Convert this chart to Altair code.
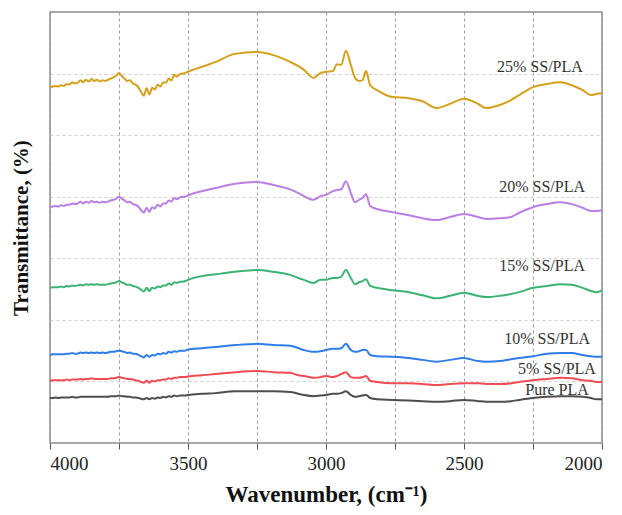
import altair as alt
import pandas as pd

wavenumber = [4000, 3990, 3980, 3970, 3960, 3950, 3940, 3930, 3920, 3910,
              3900, 3890, 3880, 3870, 3860, 3850, 3840, 3830, 3820, 3810,
              3800, 3790, 3780, 3770, 3760, 3750, 3740, 3730, 3720, 3710,
              3700, 3690, 3680, 3670, 3660, 3650, 3640, 3630, 3620, 3610,
              3600, 3590, 3580, 3570, 3560, 3550, 3540, 3530, 3520, 3510,
              3500, 3450, 3400, 3330, 3250, 3190, 3130, 3100, 3080, 3045,
              3020, 3000, 2975, 2960, 2945, 2928, 2910, 2895, 2880, 2868,
              2855, 2840, 2815, 2760, 2700, 2650, 2600, 2550, 2500, 2450,
              2420, 2370, 2330, 2300, 2250, 2200, 2150, 2110, 2070, 2040,
              2020, 2000]

ss25 = [57.7, 57.9, 58.0, 57.9, 58.1, 58.0, 58.3, 58.2, 58.6, 58.4,
        58.5, 58.9, 58.6, 59.0, 58.7, 59.1, 58.8, 59.0, 58.7, 58.9,
        58.8, 59.0, 59.2, 59.4, 59.7, 60.1, 59.6, 59.2, 58.8, 58.9,
        58.4, 58.2, 57.8, 57.0, 56.4, 57.6, 56.6, 57.7, 57.4, 58.2,
        57.9, 58.6, 58.5, 59.2, 58.9, 59.8, 59.5, 59.9, 60.0, 60.1,
        60.3, 61.1, 61.9, 63.2, 63.5, 63.0, 61.9, 61.2, 60.6, 59.3,
        60.1, 60.3, 60.4, 61.5, 61.4, 63.7, 61.4, 59.3, 58.8, 58.9,
        60.4, 58.1, 57.3, 56.2, 56.0, 55.5, 54.4, 55.1, 55.9, 55.1,
        54.4, 54.9, 55.7, 56.5, 57.8, 58.3, 58.6, 58.1, 57.3, 56.5,
        56.7, 56.8]

ss20 = [38.3, 38.4, 38.5, 38.4, 38.6, 38.5, 38.7, 38.7, 38.9, 38.8,
        38.9, 39.2, 38.9, 39.2, 39.0, 39.3, 39.1, 39.2, 39.0, 39.2,
        39.1, 39.2, 39.4, 39.5, 39.7, 40.0, 39.7, 39.4, 39.1, 39.2,
        38.8, 38.7, 38.4, 37.8, 37.4, 38.2, 37.5, 38.3, 38.1, 38.7,
        38.4, 38.9, 38.9, 39.4, 39.2, 39.8, 39.6, 39.9, 40.0, 40.0,
        40.2, 40.9, 41.4, 42.1, 42.4, 41.9, 41.2, 40.6, 40.1, 39.5,
        40.1, 40.3, 40.9, 41.1, 41.2, 42.5, 40.6, 39.1, 39.5, 39.8,
        40.4, 38.5, 38.0, 37.5, 37.0, 36.5, 36.2, 36.7, 37.2, 36.7,
        36.4, 36.5, 36.7, 37.4, 38.3, 38.8, 39.1, 38.8, 38.2, 37.7,
        37.7, 37.8]

ss15 = [25.2, 25.3, 25.3, 25.3, 25.4, 25.3, 25.5, 25.4, 25.6, 25.5,
        25.6, 25.7, 25.6, 25.8, 25.7, 25.8, 25.7, 25.8, 25.7, 25.7,
        25.7, 25.8, 25.9, 26.0, 26.1, 26.3, 26.1, 25.9, 25.7, 25.7,
        25.5, 25.4, 25.2, 24.9, 24.6, 25.2, 24.7, 25.2, 25.1, 25.4,
        25.3, 25.6, 25.6, 25.9, 25.7, 26.1, 26.0, 26.2, 26.2, 26.3,
        26.5, 27.1, 27.4, 27.8, 28.1, 27.8, 27.3, 26.8, 26.5, 26.0,
        26.5, 26.5, 26.8, 26.8, 27.0, 28.1, 26.8, 25.8, 26.1, 26.3,
        26.6, 25.5, 25.2, 24.8, 24.5, 24.0, 23.5, 23.9, 24.4, 23.9,
        23.7, 23.9, 24.2, 24.5, 25.2, 25.5, 25.8, 25.7, 25.2, 24.7,
        24.5, 24.8]

ss10 = [14.3, 14.4, 14.4, 14.4, 14.4, 14.4, 14.5, 14.5, 14.6, 14.5,
        14.5, 14.7, 14.6, 14.7, 14.6, 14.7, 14.6, 14.7, 14.6, 14.7,
        14.6, 14.7, 14.8, 14.8, 14.9, 15.0, 14.9, 14.8, 14.6, 14.7,
        14.5, 14.5, 14.3, 14.1, 13.9, 14.3, 14.0, 14.3, 14.2, 14.5,
        14.4, 14.6, 14.5, 14.8, 14.7, 14.9, 14.8, 15.0, 15.0, 15.0,
        15.2, 15.4, 15.6, 15.9, 16.1, 15.9, 15.8, 15.4, 15.1, 14.8,
        14.9, 15.1, 15.3, 15.3, 15.4, 16.1, 15.1, 14.8, 14.9, 15.1,
        15.1, 14.3, 14.1, 14.0, 13.8, 13.5, 13.2, 13.5, 13.8, 13.3,
        13.2, 13.3, 13.6, 13.8, 14.1, 14.5, 14.6, 14.6, 14.3, 14.1,
        14.0, 14.0]

ss5 = [10.1, 10.2, 10.2, 10.2, 10.2, 10.2, 10.3, 10.2, 10.3, 10.3,
       10.3, 10.4, 10.3, 10.4, 10.4, 10.5, 10.4, 10.4, 10.4, 10.4,
       10.4, 10.4, 10.5, 10.5, 10.6, 10.7, 10.6, 10.5, 10.4, 10.4,
       10.3, 10.2, 10.1, 9.9, 9.8, 10.1, 9.8, 10.1, 10.0, 10.2,
       10.2, 10.3, 10.3, 10.5, 10.4, 10.6, 10.6, 10.7, 10.7, 10.7,
       10.8, 11.0, 11.2, 11.5, 11.7, 11.5, 11.4, 11.0, 10.9, 10.6,
       10.7, 10.9, 10.7, 10.9, 11.2, 11.5, 10.7, 10.6, 10.6, 10.7,
       10.9, 10.1, 9.9, 9.7, 9.7, 9.6, 9.4, 9.6, 9.7, 9.7,
       9.6, 9.6, 9.7, 9.9, 10.2, 10.4, 10.6, 10.5, 10.2, 10.1,
       9.9, 9.9]

pure = [7.3, 7.3, 7.4, 7.3, 7.4, 7.4, 7.4, 7.4, 7.5, 7.4,
        7.4, 7.5, 7.5, 7.5, 7.5, 7.5, 7.5, 7.5, 7.5, 7.5,
        7.5, 7.5, 7.6, 7.6, 7.6, 7.7, 7.6, 7.6, 7.5, 7.5,
        7.4, 7.4, 7.3, 7.2, 7.1, 7.3, 7.1, 7.3, 7.2, 7.4,
        7.3, 7.5, 7.4, 7.6, 7.5, 7.7, 7.6, 7.7, 7.7, 7.7,
        7.8, 8.0, 8.1, 8.4, 8.4, 8.4, 8.3, 8.0, 7.8, 7.6,
        7.7, 7.8, 8.0, 8.0, 8.1, 8.4, 7.8, 7.5, 7.6, 7.7,
        7.8, 7.3, 7.1, 7.0, 6.9, 6.8, 6.7, 6.8, 7.0, 6.8,
        6.7, 6.7, 6.8, 7.0, 7.3, 7.5, 7.6, 7.6, 7.5, 7.3,
        7.1, 7.1]

series_names = ["Pure PLA", "5% SS/PLA", "10% SS/PLA", "15% SS/PLA", "20% SS/PLA", "25% SS/PLA"]
series_values = [pure, ss5, ss10, ss15, ss20, ss25]
series_colors = ["#4d4d4d", "#ef4b52", "#2f7de6", "#3cb371", "#b97fe3", "#d4a11c"]

label_wn = [2163, 2163, 2199, 2217, 2217, 2225]
label_y = [8.6, 12.0, 16.9, 28.7, 41.6, 61.1]

rows = []
for name, vals in zip(series_names, series_values):
    for w, v in zip(wavenumber, vals):
        rows.append({"wn": w, "T": v, "sample": name})
df = pd.DataFrame(rows)
labels = pd.DataFrame({"wn": label_wn, "T": label_y, "sample": series_names})

xscale = alt.Scale(domain=[4000, 2000], nice=False, zero=False)
yscale = alt.Scale(domain=[0, 70], nice=False, zero=True)

serif = "Liberation Serif"

lines = alt.Chart(df).mark_line(strokeWidth=2, interpolate="monotone").encode(
    x=alt.X("wn:Q", scale=xscale,
            axis=alt.Axis(title="Wavenumber, (cm⁻¹)",
                          values=[4000, 3750, 3500, 3250, 3000, 2750, 2500, 2250, 2000],
                          labelExpr="datum.value % 500 == 0 ? datum.label : ''",
                          format="d", grid=True, gridDash=[3, 3], gridColor="#9a9a9a",
                          gridWidth=1, tickColor="#555", tickSize=6, domain=False,
                          labelFont=serif, labelFontSize=19, labelColor="#222",
                          labelPadding=5,
                          titleFont=serif, titleFontSize=23, titleFontWeight="bold",
                          titleColor="#111", titlePadding=10)),
    y=alt.Y("T:Q", scale=yscale,
            axis=alt.Axis(title="Transmittance, (%)", values=[10, 20, 30, 40, 50, 60],
                          labels=False, ticks=False, domain=False, grid=True,
                          gridDash=[3, 3], gridColor="#cfcfcf", gridWidth=1,
                          titleFont=serif, titleFontSize=21, titleFontWeight="bold",
                          titleColor="#111", titlePadding=19)),
    color=alt.Color("sample:N", scale=alt.Scale(domain=series_names, range=series_colors), legend=None),
    detail="sample:N",
)

text = alt.Chart(labels).mark_text(font=serif, fontSize=16, color="#333", align="center",
                                   baseline="middle").encode(
    x=alt.X("wn:Q", scale=xscale),
    y=alt.Y("T:Q", scale=yscale),
    text="sample:N",
)

chart = alt.layer(lines, text).properties(
    width=552, height=431,
    autosize=alt.AutoSizeParams(type="none"),
    padding={"left": 42, "top": 4, "right": 12, "bottom": 70},
).configure_view(stroke="#8c8c8c", strokeWidth=1.5).configure_axis(
    labelFont=serif, titleFont=serif
)

chart.save("out.html", embed_options={"renderer": "svg", "actions": False})
